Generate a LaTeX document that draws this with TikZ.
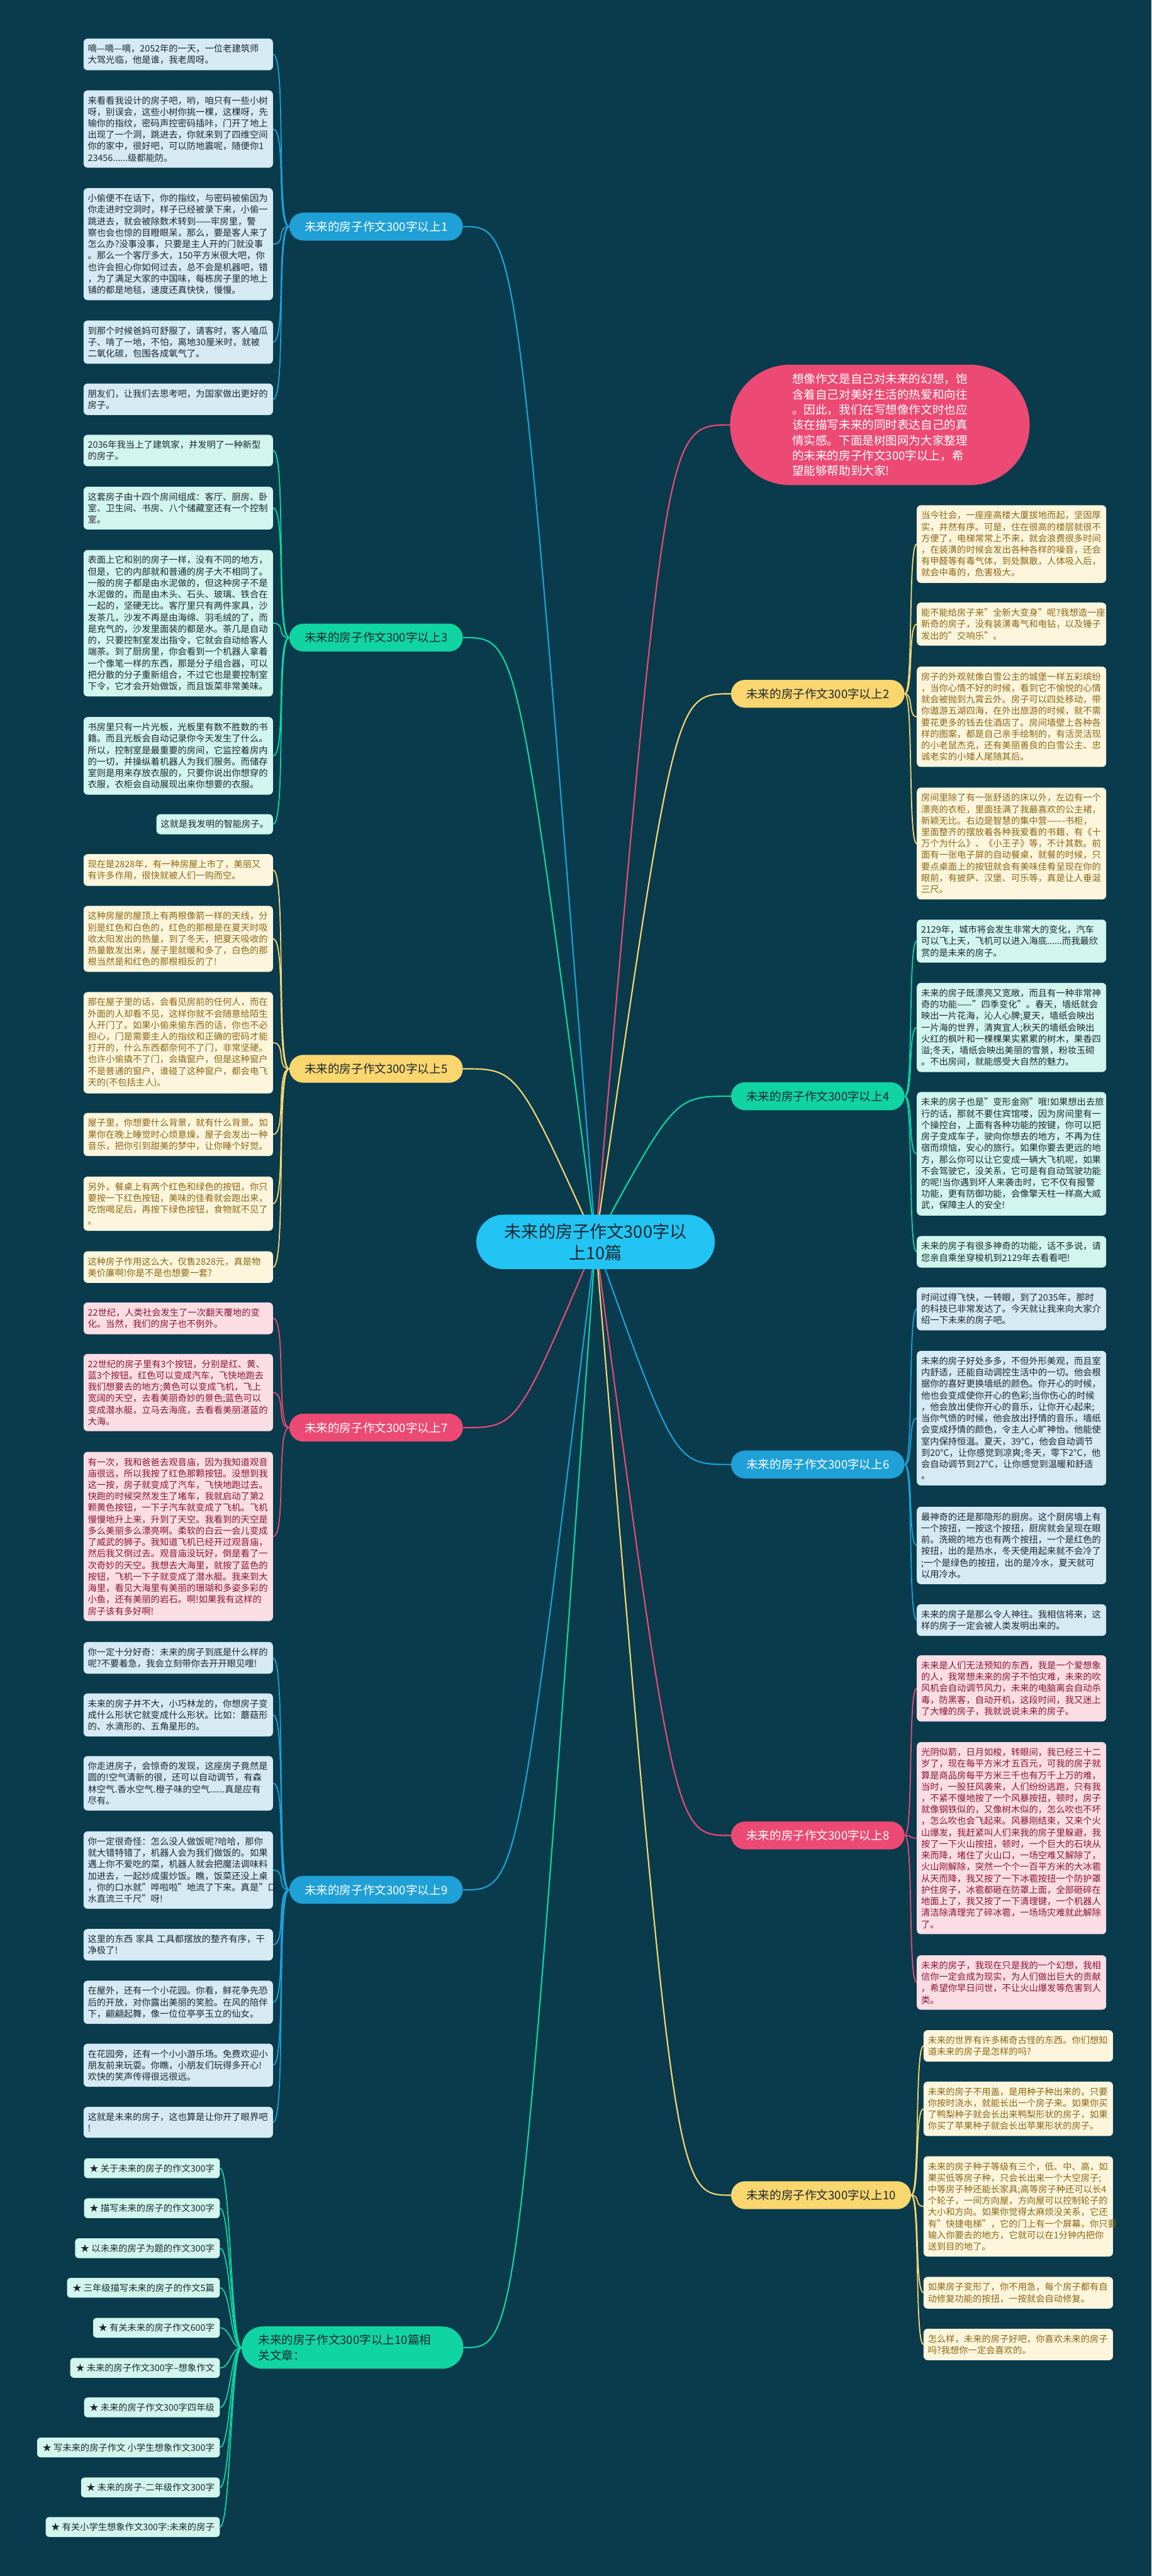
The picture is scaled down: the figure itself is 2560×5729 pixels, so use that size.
\documentclass[tikz,border=0pt]{standalone}
\usepackage{fontspec}
\setmainfont{Noto Sans CJK SC}
\usetikzlibrary{positioning}

\definecolor{cBg}{RGB}{9,59,77}
\definecolor{cCenter}{RGB}{34,196,243}
\definecolor{cBlue}{RGB}{31,160,214}
\definecolor{cTeal}{RGB}{16,212,162}
\definecolor{cYellow}{RGB}{249,214,110}
\definecolor{cPink}{RGB}{236,74,116}
\definecolor{cBlueLeaf}{RGB}{213,234,243}
\definecolor{cTealLeaf}{RGB}{210,246,238}
\definecolor{cYellowLeaf}{RGB}{253,246,221}
\definecolor{cPinkLeaf}{RGB}{251,221,228}
\definecolor{cDark}{RGB}{28,40,48}
\definecolor{cBrown}{RGB}{140,104,22}
\definecolor{cWine}{RGB}{138,22,56}

\pgfdeclarelayer{back}
\pgfsetlayers{back,main}

\begin{document}
\begin{tikzpicture}[x=1pt, y=-1pt,
  root/.style={rounded corners=60pt, minimum width=530pt, minimum height=121pt, align=center,
    fill=cCenter, text=cDark, font=\fontsize{38}{48}\selectfont},
  topic/.style={rounded corners=31pt, minimum height=62pt, inner xsep=34pt, anchor=west,
    font=\fontsize{26}{34}\selectfont},
  leaf/.style={rounded corners=9pt, text width=402pt, inner xsep=9.5pt, inner ysep=13pt,
    align=left, font=\fontsize{20}{25.5}\selectfont},
  lleaf/.style={leaf, anchor=east},
  rleaf/.style={leaf, anchor=west},
  blueleaf/.style={fill=cBlueLeaf, text=cDark},
  tealleaf/.style={fill=cTealLeaf, text=cDark},
  yellowleaf/.style={fill=cYellowLeaf, text=cBrown},
  pinkleaf/.style={fill=cPinkLeaf, text=cWine},
  item/.style={rounded corners=8pt, minimum height=44pt, inner xsep=12pt, inner ysep=4pt,
    anchor=east, fill=cTealLeaf, text=cDark, font=\fontsize{20}{24}\selectfont},
  link/.style={line width=3pt},
  twig/.style={line width=2.5pt}
]
\useasboundingbox (0,0) rectangle (2560,5729);

% centre and intro
\node[root] (c) at (1324,2762) {未来的房子作文300字以\\上10篇};
\node[rounded corners=134pt, minimum width=666pt, minimum height=268pt, align=left,
  fill=cPink, text=white, font=\fontsize{26}{34}\selectfont] (intro) at (1956,945)
  {想像作文是自己对未来的幻想，饱\\含着自己对美好生活的热爱和向往\\。因此，我们在写想像作文时也应\\该在描写未来的同时表达自己的真\\情实感。下面是树图网为大家整理\\的未来的房子作文300字以上，希\\望能够帮助到大家!};

% left topics
\node[topic, fill=cBlue, text=white] (b1) at (643,504) {未来的房子作文300字以上1};
\node[topic, fill=cTeal, text=cDark] (b3) at (643,1418) {未来的房子作文300字以上3};
\node[topic, fill=cYellow, text=cDark] (b5) at (643,2377) {未来的房子作文300字以上5};
\node[topic, fill=cPink, text=white] (b7) at (643,3175) {未来的房子作文300字以上7};
\node[topic, fill=cBlue, text=white] (b9) at (643,4203) {未来的房子作文300字以上9};
\node[rounded corners=47pt, minimum height=94pt, inner xsep=37pt, text width=419pt, align=left,
  anchor=west, fill=cTeal, text=cDark, font=\fontsize{26}{34}\selectfont] (rel) at (537,5221)
  {未来的房子作文300字以上10篇相\\关文章：};

% right topics
\node[topic, fill=cYellow, text=cDark] (b2) at (1625,1543) {未来的房子作文300字以上2};
\node[topic, fill=cTeal, text=cDark] (b4) at (1625,2438) {未来的房子作文300字以上4};
\node[topic, fill=cBlue, text=white] (b6) at (1625,3257) {未来的房子作文300字以上6};
\node[topic, fill=cPink, text=white] (b8) at (1625,4082) {未来的房子作文300字以上8};
\node[topic, fill=cYellow, text=cDark] (b10) at (1625,4882) {未来的房子作文300字以上10};

% branch 1
\node[lleaf, blueleaf] (l1a) at (607,121) {嘀—嘀—嘀，2052年的一天，一位老建筑师\\大驾光临，他是谁，我老周呀。};
\node[lleaf, blueleaf] (l1b) at (607,287) {来看看我设计的房子吧，哟，咱只有一些小树\\呀，别误会，这些小树你挑一棵，这棵呀，先\\输你的指纹，密码声控密码插咔，门开了地上\\出现了一个洞，跳进去，你就来到了四维空间\\你的家中，很好吧，可以防地震呢，随便你1\\23456......级都能防。};
\node[lleaf, blueleaf] (l1c) at (607,543) {小偷便不在话下，你的指纹，与密码被偷因为\\你走进时空洞时，样子已经被录下来，小偷一\\跳进去，就会被除数术转到——牢房里，警\\察也会也惊的目瞪眼呆，那么，要是客人来了\\怎么办?没事没事，只要是主人开的门就没事\\。那么一个客厅多大，150平方米很大吧，你\\也许会担心你如何过去，总不会是机器吧，错\\，为了满足大家的中国味，每栋房子里的地上\\铺的都是地毯，速度还真快快，慢慢。};
\node[lleaf, blueleaf] (l1d) at (607,761) {到那个时候爸妈可舒服了，请客时，客人嗑瓜\\子、啃了一地，不怕，离地30厘米时，就被\\二氧化碳，包围各成氧气了。};
\node[lleaf, blueleaf] (l1e) at (607,888) {朋友们，让我们去思考吧，为国家做出更好的\\房子。};

% branch 3
\node[lleaf, tealleaf] (l3a) at (607,1002) {2036年我当上了建筑家，并发明了一种新型\\的房子。};
\node[lleaf, tealleaf] (l3b) at (607,1130) {这套房子由十四个房间组成：客厅、厨房、卧\\室、卫生间、书房、八个储藏室还有一个控制\\室。};
\node[lleaf, tealleaf] (l3c) at (607,1386) {表面上它和别的房子一样，没有不同的地方，\\但是，它的内部就和普通的房子大不相同了。\\一般的房子都是由水泥做的，但这种房子不是\\水泥做的，而是由木头、石头、玻璃、铁合在\\一起的，坚硬无比。客厅里只有两件家具，沙\\发茶几，沙发不再是由海绵、羽毛绒的了，而\\是充气的，沙发里面装的都是水。茶几是自动\\的，只要控制室发出指令，它就会自动给客人\\端茶。到了厨房里，你会看到一个机器人拿着\\一个像笔一样的东西，那是分子组合器，可以\\把分散的分子重新组合，不过它也是要控制室\\下令，它才会开始做饭，而且饭菜非常美味。};
\node[lleaf, tealleaf] (l3d) at (607,1681) {书房里只有一片光板，光板里有数不胜数的书\\籍。而且光板会自动记录你今天发生了什么。\\所以，控制室是最重要的房间，它监控着房内\\的一切，并操纵着机器人为我们服务。而储存\\室则是用来存放衣服的，只要你说出你想穿的\\衣服，衣柜会自动展现出来你想要的衣服。};
\node[lleaf, tealleaf, text width=, align=left] (l3e) at (607,1833) {这就是我发明的智能房子。};

% branch 5
\node[lleaf, yellowleaf] (l5a) at (607,1935) {现在是2828年，有一种房屋上市了，美丽又\\有许多作用，很快就被人们一购而空。};
\node[lleaf, yellowleaf] (l5b) at (607,2088) {这种房屋的屋顶上有两根像箭一样的天线，分\\别是红色和白色的，红色的那根是在夏天时吸\\收太阳发出的热量，到了冬天，把夏天吸收的\\热量散发出来，屋子里就暖和多了，白色的那\\根当然是和红色的那根相反的了!};
\node[lleaf, yellowleaf] (l5c) at (607,2319) {那在屋子里的话，会看见房前的任何人，而在\\外面的人却看不见，这样你就不会随意给陌生\\人开门了。如果小偷来偷东西的话，你也不必\\担心，门是需要主人的指纹和正确的密码才能\\打开的，什么东西都奈何不了门，非常坚硬。\\也许小偷撬不了门，会撬窗户，但是这种窗户\\不是普通的窗户，谁碰了这种窗户，都会电飞\\天的(不包括主人)。};
\node[lleaf, yellowleaf] (l5d) at (607,2523) {屋子里，你想要什么背景，就有什么背景。如\\果你在晚上睡觉时心烦意燥，屋子会发出一种\\音乐，把你引到甜美的梦中，让你睡个好觉。};
\node[lleaf, yellowleaf] (l5e) at (607,2677) {另外，餐桌上有两个红色和绿色的按钮，你只\\要按一下红色按钮，美味的佳肴就会跑出来，\\吃饱喝足后，再按下绿色按钮，食物就不见了\\。};
\node[lleaf, yellowleaf] (l5f) at (607,2818) {这种房子作用这么大，仅售2828元，真是物\\美价廉啊!你是不是也想要一套?};

% branch 7
\node[lleaf, pinkleaf] (l7a) at (607,2932) {22世纪，人类社会发生了一次翻天覆地的变\\化。当然，我们的房子也不例外。};
\node[lleaf, pinkleaf] (l7b) at (607,3097) {22世纪的房子里有3个按钮，分别是红、黄、\\蓝3个按钮。红色可以变成汽车，飞快地跑去\\我们想要去的地方;黄色可以变成飞机，飞上\\宽阔的天空，去看美丽奇妙的景色;蓝色可以\\变成潜水艇，立马去海底，去看看美丽湛蓝的\\大海。};
\node[lleaf, pinkleaf] (l7c) at (607,3417) {有一次，我和爸爸去观音庙，因为我知道观音\\庙很远，所以我按了红色那颗按钮。没想到我\\这一按，房子就变成了汽车，飞快地跑过去。\\快跑的时候突然发生了堵车，我就启动了第2\\颗黄色按钮，一下子汽车就变成了飞机。飞机\\慢慢地升上来，升到了天空。我看到的天空是\\多么美丽多么漂亮啊。柔软的白云一会儿变成\\了威武的狮子。我知道飞机已经开过观音庙，\\然后我又倒过去。观音庙没玩好，倒是看了一\\次奇妙的天空。我想去大海里，就按了蓝色的\\按钮，飞机一下子就变成了潜水艇。我来到大\\海里，看见大海里有美丽的珊瑚和多姿多彩的\\小鱼，还有美丽的岩石。啊!如果我有这样的\\房子该有多好啊!};

% branch 9
\node[lleaf, blueleaf] (l9a) at (607,3687) {你一定十分好奇：未来的房子到底是什么样的\\呢?不要着急，我会立刻带你去开开眼见哩!};
\node[lleaf, blueleaf] (l9b) at (607,3814) {未来的房子并不大，小巧林龙的，你想房子变\\成什么形状它就变成什么形状。比如：蘑菇形\\的、水滴形的、五角星形的。};
\node[lleaf, blueleaf] (l9c) at (607,3966) {你走进房子，会惊奇的发现，这座房子竟然是\\圆的!空气清新的很，还可以自动调节，有森\\林空气.香水空气.橙子味的空气......真是应有\\尽有。};
\node[lleaf, blueleaf] (l9d) at (607,4159) {你一定很奇怪：怎么没人做饭呢?哈哈，那你\\就大错特错了，机器人会为我们做饭的。如果\\遇上你不爱吃的菜，机器人就会把魔法调味料\\加进去，一起炒成蛋炒饭。瞧，饭菜还没上桌\\，你的口水就"哗啦啦"地流了下来。真是"口\\水直流三千尺"呀!};
\node[lleaf, blueleaf] (l9e) at (607,4325) {这里的东西 家具 工具都摆放的整齐有序，干\\净极了!};
\node[lleaf, blueleaf] (l9f) at (607,4453) {在屋外，还有一个小花园。你看，鲜花争先恐\\后的开放，对你露出美丽的笑脸。在风的陪伴\\下，翩翩起舞，像一位位亭亭玉立的仙女。};
\node[lleaf, blueleaf] (l9g) at (607,4593) {在花园旁，还有一个小小游乐场。免费欢迎小\\朋友前来玩耍。你瞧，小朋友们玩得多开心!\\欢快的笑声传得很远很远。};
\node[lleaf, blueleaf] (l9h) at (607,4720) {这就是未来的房子，这也算是让你开了眼界吧\\!};

% related articles
\node[item] (r1) at (489,4822) {★ 关于未来的房子的作文300字};
\node[item] (r2) at (489,4911) {★ 描写未来的房子的作文300字};
\node[item] (r3) at (489,5000) {★ 以未来的房子为题的作文300字};
\node[item] (r4) at (489,5088) {★ 三年级描写未来的房子的作文5篇};
\node[item] (r5) at (489,5177) {★ 有关未来的房子作文600字};
\node[item] (r6) at (489,5266) {★ 未来的房子作文300字--想象作文};
\node[item] (r7) at (489,5354) {★ 未来的房子作文300字四年级};
\node[item] (r8) at (489,5443) {★ 写未来的房子作文 小学生想象作文300字};
\node[item] (r9) at (489,5532) {★ 未来的房子-二年级作文300字};
\node[item] (r10) at (489,5620) {★ 有关小学生想象作文300字:未来的房子};

% branch 2
\node[rleaf, yellowleaf] (l2a) at (2038,1210) {当今社会，一座座高楼大厦拔地而起，坚固厚\\实，井然有序。可是，住在很高的楼层就很不\\方便了，电梯常常上不来，就会浪费很多时间\\，在装潢的时候会发出各种各样的噪音，还会\\有甲醛等有毒气体，到处飘散，人体吸入后，\\就会中毒的，危害极大。};
\node[rleaf, yellowleaf] (l2b) at (2038,1388) {能不能给房子来"全新大变身"呢?我想造一座\\新奇的房子，没有装潢毒气和电钻，以及锤子\\发出的"交响乐"。};
\node[rleaf, yellowleaf] (l2c) at (2038,1594) {房子的外观就像白雪公主的城堡一样五彩缤纷\\，当你心情不好的时候，看到它不愉悦的心情\\就会被抛到九霄云外。房子可以四处移动，带\\你遨游五湖四海，在外出旅游的时候，就不需\\要花更多的钱去住酒店了。房间墙壁上各种各\\样的图案，都是自己亲手绘制的，有活灵活现\\的小老鼠杰克，还有美丽善良的白雪公主、忠\\诚老实的小矮人尾随其后。};
\node[rleaf, yellowleaf] (l2d) at (2038,1876) {房间里除了有一张舒适的床以外，左边有一个\\漂亮的衣柜，里面挂满了我最喜欢的公主裙，\\新颖无比。右边是智慧的集中营——-书柜，\\里面整齐的摆放着各种我爱看的书籍，有《十\\万个为什么》、《小王子》等，不计其数。前\\面有一张电子屏的自动餐桌，就餐的时候，只\\要点桌面上的按钮就会有美味佳肴呈现在你的\\眼前，有披萨、汉堡、可乐等，真是让人垂涎\\三尺。};

% branch 4
\node[rleaf, tealleaf] (l4a) at (2038,2093) {2129年，城市将会发生非常大的变化，汽车\\可以飞上天，飞机可以进入海底......而我最欣\\赏的是未来的房子。};
\node[rleaf, tealleaf] (l4b) at (2038,2285) {未来的房子既漂亮又宽敞，而且有一种非常神\\奇的功能——"四季变化"。春天，墙纸就会\\映出一片花海，沁人心脾;夏天，墙纸会映出\\一片海的世界，清爽宜人;秋天的墙纸会映出\\火红的枫叶和一棵棵果实累累的树木，果香四\\溢;冬天，墙纸会映出美丽的雪景，粉妆玉砌\\。不出房间，就能感受大自然的魅力。};
\node[rleaf, tealleaf] (l4c) at (2038,2566) {未来的房子也是"变形金刚"哦!如果想出去旅\\行的话，那就不要住宾馆喽，因为房间里有一\\个操控台，上面有各种功能的按键，你可以把\\房子变成车子，驶向你想去的地方，不再为住\\宿而烦恼，安心的旅行。如果你要去更远的地\\方，那么你可以让它变成一辆大飞机呢，如果\\不会驾驶它，没关系，它可是有自动驾驶功能\\的呢!当你遇到坏人来袭击时，它不仅有报警\\功能，更有防御功能，会像擎天柱一样高大威\\武，保障主人的安全!};
\node[rleaf, tealleaf] (l4d) at (2038,2784) {未来的房子有很多神奇的功能，话不多说，请\\您亲自乘坐穿梭机到2129年去看看吧!};

% branch 6
\node[rleaf, blueleaf] (l6a) at (2038,2911) {时间过得飞快，一转眼，到了2035年，那时\\的科技已非常发达了。今天就让我来向大家介\\绍一下未来的房子吧。};
\node[rleaf, blueleaf] (l6b) at (2038,3154) {未来的房子好处多多，不但外形美观，而且室\\内舒适，还能自动调控生活中的一切。他会根\\据你的喜好更换墙纸的颜色。你开心的时候，\\他也会变成使你开心的色彩;当你伤心的时候\\，他会放出使你开心的音乐，让你开心起来;\\当你气愤的时候，他会放出抒情的音乐，墙纸\\会变成抒情的颜色，令主人心旷神怡。他能使\\室内保持恒温。夏天，39°C，他会自动调节\\到20°C，让你感觉到凉爽;冬天，零下2°C，他\\会自动调节到27°C，让你感觉到温暖和舒适\\。};
\node[rleaf, blueleaf] (l6c) at (2038,3437) {最神奇的还是那隐形的厨房。这个厨房墙上有\\一个按扭，一按这个按扭，厨房就会呈现在眼\\前。洗碗的地方也有两个按扭，一个是红色的\\按扭，出的是热水，冬天使用起来就不会冷了\\;一个是绿色的按扭，出的是冷水，夏天就可\\以用冷水。};
\node[rleaf, blueleaf] (l6d) at (2038,3603) {未来的房子是那么令人神往。我相信将来，这\\样的房子一定会被人类发明出来的。};

% branch 8
\node[rleaf, pinkleaf] (l8a) at (2038,3755) {未来是人们无法预知的东西，我是一个爱想象\\的人，我常想未来的房子不怕灾难，未来的吹\\风机会自动调节风力，未来的电脑离会自动杀\\毒，防黑客，自动开机，这段时间，我又迷上\\了大幢的房子，我就说说未来的房子。};
\node[rleaf, pinkleaf] (l8b) at (2038,4088) {光阴似箭，日月如梭，转眼间，我已经三十二\\岁了，现在每平方米才五百元，可我的房子就\\算是商品房每平方米三千也有万千上万的难，\\当时，一股狂风袭来，人们纷纷逃跑，只有我\\，不紧不慢地按了一个风暴按扭，顿时，房子\\就像钢铁似的，又像树木似的，怎么吹也不坏\\，怎么吹也会飞起来。风暴刚结束，又来个火\\山爆发，我赶紧叫人们来我的房子里躲避，我\\按了一下火山按扭，顿时，一个巨大的石块从\\来而降，堵住了火山口，一场空难又解除了，\\火山刚解除，突然一个个一百平方米的大冰雹\\从天而降，我又按了一下冰雹按扭一个防护罩\\护住房子，冰雹都砸在防罩上面，全部砸碎在\\地面上了，我又按了一下清理键，一个机器人\\清洁除清理完了碎冰雹，一场场灾难就此解除\\了。};
\node[rleaf, pinkleaf] (l8c) at (2038,4409) {未来的房子，我现在只是我的一个幻想，我相\\信你一定会成为现实，为人们做出巨大的贡献\\，希望你早日问世，不让火山爆发等危害到人\\类。};

% branch 10
\node[rleaf, yellowleaf] (l10a) at (2053,4550) {未来的世界有许多稀奇古怪的东西。你们想知\\道未来的房子是怎样的吗?};
\node[rleaf, yellowleaf] (l10b) at (2053,4690) {未来的房子不用盖，是用种子种出来的，只要\\你按时浇水，就能长出一个房子来。如果你买\\了鸭梨种子就会长出来鸭梨形状的房子，如果\\你买了苹果种子就会长出苹果形状的房子。};
\node[rleaf, yellowleaf] (l10c) at (2053,4907) {未来的房子种子等级有三个，低、中、高，如\\果买低等房子种，只会长出来一个大空房子;\\中等房子种还能长家具;高等房子种还可以长4\\个轮子，一间方向屋，方向屋可以控制轮子的\\大小和方向。如果你觉得太麻烦没关系，它还\\有"快捷电梯"，它的门上有一个屏幕，你只要\\输入你要去的地方，它就可以在1分钟内把你\\送到目的地了。};
\node[rleaf, yellowleaf] (l10d) at (2053,5099) {如果房子变形了，你不用急，每个房子都有自\\动修复功能的按扭，一按就会自动修复。};
\node[rleaf, yellowleaf] (l10e) at (2053,5214) {怎么样，未来的房子好吧，你喜欢未来的房子\\吗?我想你一定会喜欢的。};

\begin{pgfonlayer}{back}
\fill[cBg] (0,0) rectangle (2560,5729);
% centre to topics
\draw[link, cPink] (c.center) .. controls (1480,945) .. (intro.west);
\draw[link, cBlue] (c.center) .. controls (1150,504) .. (b1.east);
\draw[link, cTeal] (c.center) .. controls (1150,1418) .. (b3.east);
\draw[link, cYellow] (c.center) .. controls (1150,2377) .. (b5.east);
\draw[link, cPink] (c.center) .. controls (1150,3175) .. (b7.east);
\draw[link, cBlue] (c.center) .. controls (1150,4203) .. (b9.east);
\draw[link, cTeal] (c.center) .. controls (1150,5221) .. (rel.east);
\draw[link, cYellow] (c.center) .. controls (1500,1543) .. (b2.west);
\draw[link, cTeal] (c.center) .. controls (1500,2438) .. (b4.west);
\draw[link, cBlue] (c.center) .. controls (1500,3257) .. (b6.west);
\draw[link, cPink] (c.center) .. controls (1500,4082) .. (b8.west);
\draw[link, cYellow] (c.center) .. controls (1500,4882) .. (b10.west);
% topics to leaves
\foreach \n in {l1a,l1b,l1c,l1d,l1e}
  \draw[twig, cBlue] (b1.west) .. controls +(-30,0) and +(30,0) .. (\n.east);
\foreach \n in {l3a,l3b,l3c,l3d,l3e}
  \draw[twig, cTeal] (b3.west) .. controls +(-30,0) and +(30,0) .. (\n.east);
\foreach \n in {l5a,l5b,l5c,l5d,l5e,l5f}
  \draw[twig, cYellow] (b5.west) .. controls +(-30,0) and +(30,0) .. (\n.east);
\foreach \n in {l7a,l7b,l7c}
  \draw[twig, cPink] (b7.west) .. controls +(-30,0) and +(30,0) .. (\n.east);
\foreach \n in {l9a,l9b,l9c,l9d,l9e,l9f,l9g,l9h}
  \draw[twig, cBlue] (b9.west) .. controls +(-30,0) and +(30,0) .. (\n.east);
\foreach \n in {r1,r2,r3,r4,r5,r6,r7,r8,r9,r10}
  \draw[twig, cTeal] (rel.west) .. controls +(-24,0) and +(24,0) .. (\n.east);
\foreach \n in {l2a,l2b,l2c,l2d}
  \draw[twig, cYellow] (b2.east) .. controls +(20,0) and +(-20,0) .. (\n.west);
\foreach \n in {l4a,l4b,l4c,l4d}
  \draw[twig, cTeal] (b4.east) .. controls +(20,0) and +(-20,0) .. (\n.west);
\foreach \n in {l6a,l6b,l6c,l6d}
  \draw[twig, cBlue] (b6.east) .. controls +(20,0) and +(-20,0) .. (\n.west);
\foreach \n in {l8a,l8b,l8c}
  \draw[twig, cPink] (b8.east) .. controls +(20,0) and +(-20,0) .. (\n.west);
\foreach \n in {l10a,l10b,l10c,l10d,l10e}
  \draw[twig, cYellow] (b10.east) .. controls +(20,0) and +(-20,0) .. (\n.west);
\end{pgfonlayer}
\end{tikzpicture}
\end{document}
